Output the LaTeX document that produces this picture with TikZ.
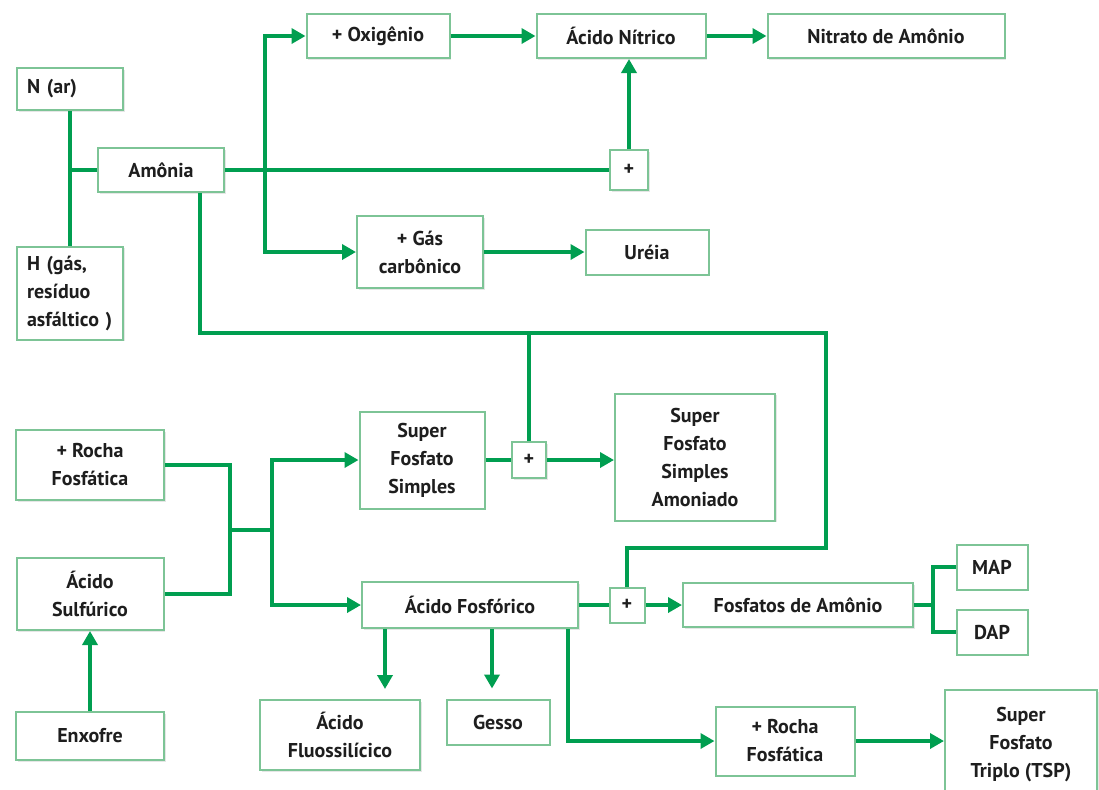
\documentclass[tikz,border=0pt]{standalone}
\usepackage{fontspec}
\setmainfont{PT Sans}
\usepackage{tikz}
\usetikzlibrary{arrows.meta, positioning, shadows}

\definecolor{verde}{RGB}{0,158,80}
\definecolor{verdeclaro}{RGB}{125,196,150}
\definecolor{texto}{RGB}{30,30,30}

\tikzset{
    caixa/.style={draw=verdeclaro, line width=1pt, fill=white, text=texto,
        font=\bfseries\fontsize{10}{14}\selectfont, align=center, inner sep=0pt,
        drop shadow={shadow xshift=0.8pt, shadow yshift=-0.8pt, opacity=0.2}},
    caixaesq/.style={caixa, align=left, inner xsep=5pt},
    linha/.style={verde, line width=2.2pt},
    seta/.style={linha, -{Triangle[width=7.5pt, length=7pt]}},
}

\begin{document}
\begin{tikzpicture}[x=0.5pt, y=-0.5pt]

    \useasboundingbox (0,0) rectangle (1099,789);

    % Nitrogênio
    \node[caixaesq, text width=43pt, minimum height=21pt] (nar) at (70,89) {N (ar)};
    \node[caixaesq, text width=43pt, minimum height=46.5pt] (hgas) at (70,293) {H (gás,\\resíduo\\asfáltico )};
    \node[caixa, minimum width=63pt, minimum height=22pt] (amonia) at (161,170) {Amônia};

    \node[caixa, minimum width=71.5pt, minimum height=22pt] (oxig) at (378,36) {+ Oxigênio};
    \node[caixa, minimum width=84.5pt, minimum height=22pt] (nitrico) at (621,36) {Ácido Nítrico};
    \node[caixa, minimum width=118.5pt, minimum height=22pt] (nitrato) at (886,36) {Nitrato de Amônio};
    \node[caixa, minimum width=19pt, minimum height=20pt] (mais1) at (629,170) {+};
    \node[caixa, minimum width=63pt, minimum height=36pt] (gas) at (420,252) {+ Gás\\carbônico};
    \node[caixa, minimum width=61.5pt, minimum height=22.5pt] (ureia) at (647,252) {Uréia};

    % Fósforo
    \node[caixa, minimum width=74pt, minimum height=35pt] (rocha) at (90,465) {+ Rocha\\Fosfática};
    \node[caixa, minimum width=73.5pt, minimum height=36pt] (sulf) at (90,594) {Ácido\\Sulfúrico};
    \node[caixa, minimum width=74pt, minimum height=24pt] (enxofre) at (90,736) {Enxofre};
    \node[caixa, minimum width=62.5pt, minimum height=48.5pt] (simples) at (422,460) {Super\\Fosfato\\Simples};
    \node[caixa, minimum width=17pt, minimum height=18pt] (mais2) at (529,460) {+};
    \node[caixa, minimum width=80pt, minimum height=63.5pt] (amoniado) at (695,457) {Super\\Fosfato\\Simples\\Amoniado};
    \node[caixa, minimum width=108pt, minimum height=23pt] (fosforico) at (470,605) {Ácido Fosfórico};
    \node[caixa, minimum width=17.5pt, minimum height=17.5pt] (mais3) at (627,605) {+};
    \node[caixa, minimum width=115pt, minimum height=22pt] (fosfatos) at (798,605) {Fosfatos de Amônio};
    \node[caixa, minimum width=35.5pt, minimum height=22.5pt] (map) at (992,567) {MAP};
    \node[caixa, minimum width=35.5pt, minimum height=22.5pt] (dap) at (992,632) {DAP};
    \node[caixa, minimum width=80pt, minimum height=35pt] (fluos) at (340,735) {Ácido\\Fluossilícico};
    \node[caixa, minimum width=51.5pt, minimum height=22.5pt] (gesso) at (498,722) {Gesso};
    \node[caixa, minimum width=69.5pt, minimum height=34.5pt] (rocha2) at (785,741) {+ Rocha\\Fosfática};
    \node[caixa, minimum width=76pt, minimum height=55pt] (tsp) at (1021,745) {Super\\Fosfato\\Triplo (TSP)};

    % Pontos de ligação
    \coordinate (rA) at (265,170);
    \coordinate (c1) at (826,333);
    \coordinate (c2) at (826,548);
    \coordinate (j1) at (230,530);
    \coordinate (j2) at (272,530);
    \coordinate (f1) at (933,605);

    % Ligações do nitrogênio
    \draw[linha] (nar) -- (hgas);
    \draw[linha] (amonia) -- (amonia.west -| nar.south);
    \draw[linha] (amonia) -- (mais1);
    \draw[seta] (rA) |- (oxig);
    \draw[seta] (rA) |- (gas);
    \draw[seta] (oxig) -- (nitrico);
    \draw[seta] (nitrico) -- (nitrato);
    \draw[seta] (mais1) -- (mais1 |- nitrico.south);
    \draw[seta] (gas) -- (ureia);
    \draw[linha] (amonia.south -| 200,0) |- (c1) -- (c2) -| (mais3);
    \draw[linha] (mais2) -- (mais2 |- c1);

    % Ligações do fósforo
    \draw[seta] (enxofre) -- (sulf);
    \draw[linha] (rocha) -| (j1) |- (sulf);
    \draw[linha] (j1) -- (j2);
    \draw[seta] (j2) |- (simples);
    \draw[seta] (j2) |- (fosforico);
    \draw[linha] (simples) -- (mais2);
    \draw[seta] (mais2) -- (mais2 -| amoniado.west);
    \draw[linha] (fosforico) -- (mais3);
    \draw[seta] (mais3) -- (fosfatos);
    \draw[linha] (fosfatos) -- (f1);
    \draw[linha] (map) -| (f1) |- (dap);
    \draw[seta, shorten >=5pt] (fosforico.south -| 385,0) -- (fluos.north -| 385,0);
    \draw[seta, shorten >=5pt] (fosforico.south -| 492,0) -- (gesso.north -| 492,0);
    \draw[seta] (fosforico.south -| 568,0) |- (rocha2);
    \draw[seta] (rocha2) -- (rocha2 -| tsp.west);

\end{tikzpicture}
\end{document}
